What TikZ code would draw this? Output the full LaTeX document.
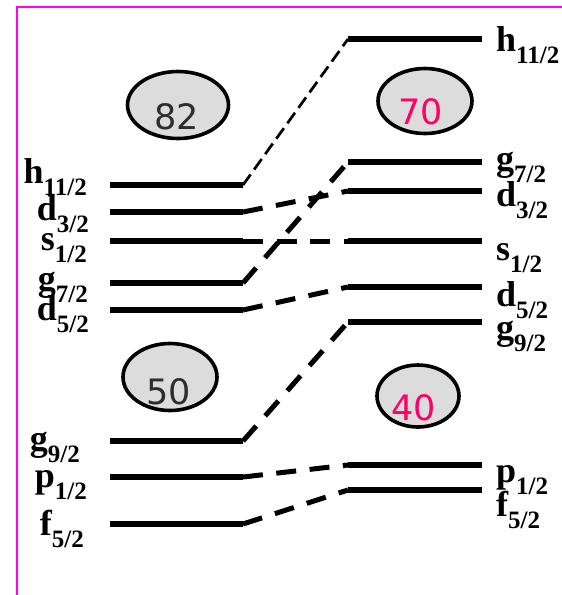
\documentclass[tikz,border=0pt]{standalone}
\usepackage{fontspec}
\setmainfont{Liberation Serif}
\newfontfamily\numfont{DejaVu Sans}
\usetikzlibrary{shapes.geometric}

\definecolor{framemag}{RGB}{255,0,255}
\definecolor{shellgray}{RGB}{220,220,220}
\definecolor{numdark}{RGB}{45,45,45}
\definecolor{numpink}{RGB}{255,0,102}

% orbital label: big bold letter with lowered bold subscript
\newcommand\orb[2]{{\fontsize{36}{36}\selectfont\bfseries #1}\raisebox{-12pt}{\fontsize{25}{25}\selectfont\bfseries #2}}

\tikzset{
  level/.style={line width=5.5pt},
  link/.style={line width=5pt, dash pattern=on 20pt off 13.5pt},
  thinlink/.style={line width=2.7pt, dash pattern=on 13pt off 6pt},
  frameline/.style={framemag, line width=2.5pt},
  shell/.style={ellipse, draw=black, line width=3.6pt, fill=shellgray, inner sep=0pt},
  magic/.style={font=\numfont\fontsize{35}{35}\selectfont, inner sep=0pt},
  lbl/.style={inner sep=0pt},
}

\begin{document}
\begin{tikzpicture}[x=1pt, y=-1pt]
\useasboundingbox (0,0) rectangle (562,595);

% frame
\draw[frameline] (17,595) -- (17,7) -- (562,7);

% ---- left set of levels
\foreach \n/\y in {h/185, d3/212, s/241, g7/283, d5/310, g9/441, p/477, f/524} {
  \coordinate (L\n-w) at (110,\y);
  \coordinate (L\n-e) at (243,\y);
  \draw[level] (L\n-w) -- (L\n-e);
}

% ---- right set of levels
\foreach \n/\y in {h/39, g7/162, d3/191, s/241, d5/287, g9/322, p/465, f/490} {
  \coordinate (R\n-w) at (348,\y);
  \coordinate (R\n-e) at (482,\y);
  \draw[level] (R\n-w) -- (R\n-e);
}

% ---- dashed correlations
\draw[thinlink] (Lh-e) -- (Rh-w);
\foreach \n in {d3, s, g7, d5, g9, p, f} {
  \draw[link] (L\n-e) -- (R\n-w);
}

% ---- shell closures
\node[shell, minimum width=101pt, minimum height=67pt] (e82) at (178,105) {};
\node[shell, minimum width=94pt, minimum height=65pt] (e70) at (425,101) {};
\node[shell, minimum width=94pt, minimum height=67pt] (e50) at (170,377) {};
\node[shell, minimum width=82pt, minimum height=62pt] (e40) at (418,396) {};
\node[magic, text=numdark] (n82) at (177,117) {82};
\node[magic, text=numpink] (n70) at (421,112) {70};
\node[magic, text=numdark] (n50) at (169,392) {50};
\node[magic, text=numpink] (n40) at (414,408) {40};

% ---- left labels
\node[lbl, anchor=base east] (tLh)  at (87,183) {\orb{h}{11/2}};
\node[lbl, anchor=base east] (tLd3) at (89,220) {\orb{d}{3/2}};
\node[lbl, anchor=base east] (tLs)  at (87,250) {\orb{s}{1/2}};
\node[lbl, anchor=base east] (tLg7) at (88,290) {\orb{g}{7/2}};
\node[lbl, anchor=base east] (tLd5) at (89,320) {\orb{d}{5/2}};
\node[lbl, anchor=base east] (tLg9) at (80,450) {\orb{g}{9/2}};
\node[lbl, anchor=base east] (tLp)  at (87,487) {\orb{p}{1/2}};
\node[lbl, anchor=base east] (tLf)  at (84,535) {\orb{f}{5/2}};

% ---- right labels
\node[lbl, anchor=base west] (tRh)  at (496,51)  {\orb{h}{11/2}};
\node[lbl, anchor=base west] (tRg7) at (496,170) {\orb{g}{7/2}};
\node[lbl, anchor=base west] (tRd3) at (496,206) {\orb{d}{3/2}};
\node[lbl, anchor=base west] (tRs)  at (496,260) {\orb{s}{1/2}};
\node[lbl, anchor=base west] (tRd5) at (496,306) {\orb{d}{5/2}};
\node[lbl, anchor=base west] (tRg9) at (496,339) {\orb{g}{9/2}};
\node[lbl, anchor=base west] (tRp)  at (496,482) {\orb{p}{1/2}};
\node[lbl, anchor=base west] (tRf)  at (496,516) {\orb{f}{5/2}};
\end{tikzpicture}
\end{document}
